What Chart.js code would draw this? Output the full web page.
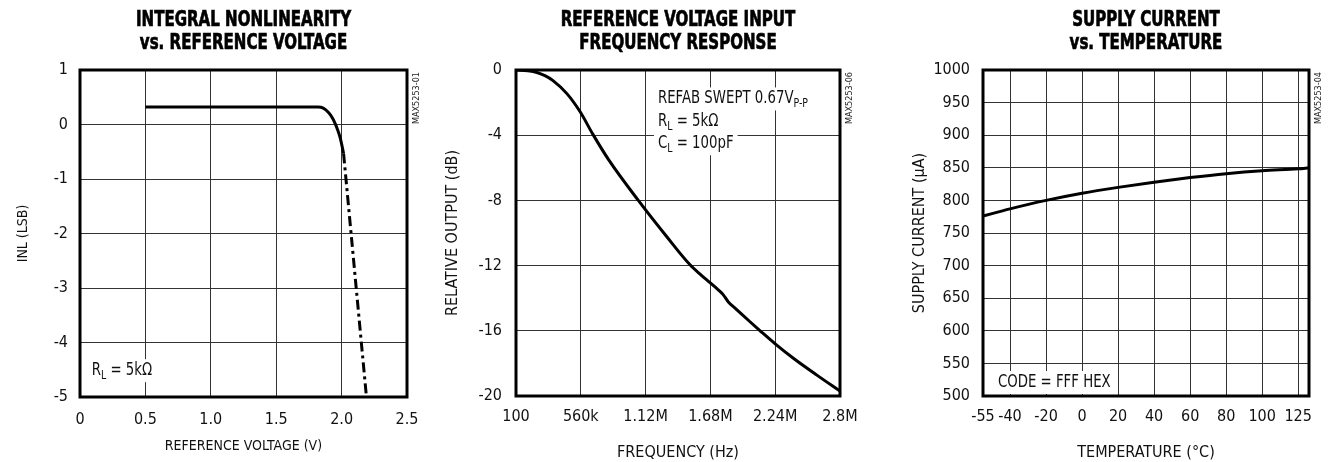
<!DOCTYPE html>
<html>
<head>
<meta charset="utf-8">
<script src="https://cdn.jsdelivr.net/npm/chart.js@4.4.1/dist/chart.umd.min.js"></script>
<style>
  body { margin: 0; background: #fff; }
  .box { position: absolute; top: 0; height: 462px; }
</style>
</head>
<body>
<div class="box" style="left:0;width:440px"><canvas id="inl" width="440" height="462"></canvas></div>
<div class="box" style="left:440px;width:450px"><canvas id="freq" width="450" height="462"></canvas></div>
<div class="box" style="left:890px;width:440px"><canvas id="supply" width="440" height="462"></canvas></div>
<script>
// INL vs reference voltage
const inlVref = [0.5, 1.0, 1.5, 1.82, 1.86, 1.90, 1.93, 1.95, 1.97, 1.99, 2.015];
const inlLsb  = [0.32, 0.32, 0.32, 0.32, 0.30, 0.22, 0.12, 0.02, -0.10, -0.25, -0.53];
const inlFallVref = [2.015, 2.19];
const inlFallLsb  = [-0.53, -5];
const inlXTicks  = [0, 0.5, 1.0, 1.5, 2.0, 2.5];
const inlXLabels = ["0", "0.5", "1.0", "1.5", "2.0", "2.5"];
const inlYTicks  = [-5, -4, -3, -2, -1, 0, 1];

// reference input frequency response
const frqHz = [100, 100000, 180000, 250000, 320000, 440000, 553000, 665000, 800000,
  1057000, 1300000, 1504000, 1600000, 1677000, 1750000, 1790000, 1835000, 1900000,
  2020000, 2110000, 2240000, 2400000, 2600000, 2800000];
const frqDb = [0, -0.05, -0.15, -0.35, -0.65, -1.45, -2.55, -3.95, -5.5,
  -8.0, -10.2, -11.95, -12.58, -13.05, -13.5, -13.78, -14.23, -14.65,
  -15.43, -16.0, -16.8, -17.7, -18.72, -19.7];
const frqXTicks  = [100, 560000, 1120000, 1680000, 2240000, 2800000];
const frqXLabels = ["100", "560k", "1.12M", "1.68M", "2.24M", "2.8M"];
const frqYTicks  = [-20, -16, -12, -8, -4, 0];

// supply current vs temperature (last grid line is labelled 125)
const supTemp = [-55, -40, -20, 0, 20, 40, 60, 80, 100, 120, 126];
const supUa   = [776, 787, 800, 811, 820, 828, 835, 841, 845.5, 848.5, 850];
const supXTicks  = [-55, -40, -20, 0, 20, 40, 60, 80, 100, 120];
const supXLabels = ["-55", "-40", "-20", "0", "20", "40", "60", "80", "100", "125"];
const supYTicks  = [500, 550, 600, 650, 700, 750, 800, 850, 900, 950, 1000];

const FONT = '"Liberation Sans Narrow", "DejaVu Sans Condensed", "Liberation Sans", sans-serif';
Chart.defaults.font.family = FONT;
Chart.defaults.color = "#111";

function zip(xs, ys) {
  return xs.map((x, i) => ({ x: x, y: ys[i] }));
}

// heading, frame, side code and notes (narrow type drawn squeezed)
const extras = {
  id: "extras",
  beforeDatasetsDraw(chart, args, opts) {
    const ctx = chart.ctx;
    const a = chart.chartArea;
    const xs = chart.scales.x, ys = chart.scales.y;
    const sq = 0.87;
    ctx.save();
    (opts.notes || []).forEach(n => {
      let x = xs.getPixelForValue(n.x);
      const y = ys.getPixelForValue(n.y);
      let w = 0;
      n.parts.forEach(p => {
        ctx.font = (p[1] ? "12px " : "17px ") + FONT;
        w += ctx.measureText(p[0]).width * sq;
      });
      ctx.fillStyle = "#fff";
      ctx.fillRect(x - 4, y - 16, w + 8, 23);
      ctx.fillStyle = "#111";
      ctx.textBaseline = "alphabetic";
      ctx.textAlign = "left";
      n.parts.forEach(p => {
        ctx.font = (p[1] ? "12px " : "17px ") + FONT;
        ctx.save();
        ctx.translate(x, y + (p[1] ? 4 : 0));
        ctx.scale(sq, 1);
        ctx.fillText(p[0], 0, 0);
        ctx.restore();
        x += ctx.measureText(p[0]).width * sq;
      });
    });
    ctx.strokeStyle = "#000";
    ctx.lineWidth = 3;
    ctx.strokeRect(a.left, a.top, a.right - a.left, a.bottom - a.top);

    // heading
    ctx.fillStyle = "#000";
    ctx.font = "bold 22px " + FONT;
    ctx.textAlign = "center";
    ctx.textBaseline = "middle";
    ctx.lineWidth = 0.7;
    opts.heading.forEach((t, i) => {
      ctx.save();
      ctx.translate((a.left + a.right) / 2, 20 + i * 23);
      ctx.scale(0.76, 1);
      ctx.fillText(t, 0, 0);
      ctx.strokeText(t, 0, 0);
      ctx.restore();
    });

    ctx.translate(a.right + 10, a.top + 28);
    ctx.rotate(-Math.PI / 2);
    ctx.font = "9px " + FONT;
    ctx.fillStyle = "#222";
    ctx.fillText(opts.code, 0, 0);
    ctx.restore();
  }
};

function makeChart(id, cfg) {
  const ctx = document.getElementById(id).getContext("2d");
  return new Chart(ctx, {
    type: "line",
    data: { datasets: cfg.datasets },
    options: {
      responsive: false,
      animation: false,
      layout: { padding: { top: 70, left: 0, bottom: 0, right: cfg.right } },
      elements: { point: { radius: 0 } },
      plugins: {
        legend: { display: false },
        tooltip: { enabled: false },
        extras: { heading: cfg.title, code: cfg.code, notes: cfg.notes }
      },
      scales: {
        x: {
          type: "linear",
          min: cfg.xMin, max: cfg.xMax,
          afterBuildTicks: s => { s.ticks = cfg.xTicks.map(v => ({ value: v })); },
          afterFit: s => { s.height = cfg.xHeight; },
          ticks: {
            autoSkip: false, maxRotation: 0, padding: cfg.xTickPad,
            font: { size: 16 },
            callback: (v, i) => cfg.xLabels[i]
          },
          grid: { color: "#333", lineWidth: 1, drawTicks: false },
          border: { display: false },
          title: {
            display: true, text: cfg.xTitle,
            font: { size: cfg.titleSize }, padding: { top: 0, bottom: cfg.xTitlePad }
          }
        },
        y: {
          type: "linear",
          min: cfg.yMin, max: cfg.yMax,
          afterBuildTicks: s => { s.ticks = cfg.yTicks.map(v => ({ value: v })); },
          afterFit: s => { s.width = cfg.yWidth; },
          ticks: {
            autoSkip: false, padding: cfg.yTickPad,
            font: { size: 16 },
            callback: v => String(v)
          },
          grid: { color: "#333", lineWidth: 1, drawTicks: false },
          border: { display: false },
          title: {
            display: true, text: cfg.yTitle,
            font: { size: cfg.titleSize }, padding: { top: cfg.yTitlePad, bottom: 0 }
          }
        }
      }
    },
    plugins: [extras]
  });
}

makeChart("inl", {
  title: ["INTEGRAL NONLINEARITY", "vs. REFERENCE VOLTAGE"],
  code: "MAX5253-01",
  right: 33, titleSize: 14,
  xMin: 0, xMax: 2.5, xTicks: inlXTicks, xLabels: inlXLabels, xHeight: 65, xTickPad: 13,
  xTitle: "REFERENCE VOLTAGE (V)", xTitlePad: 7,
  yMin: -5, yMax: 1, yTicks: inlYTicks, yWidth: 80, yTickPad: 12,
  yTitle: "INL (LSB)", yTitlePad: 15,
  notes: [{ x: 0.09, y: -4.6, parts: [["R", 0], ["L", 1], [" = 5kΩ", 0]] }],
  datasets: [
    { data: zip(inlVref, inlLsb), borderColor: "#000", borderWidth: 3, cubicInterpolationMode: "monotone" },
    { data: zip(inlFallVref, inlFallLsb), borderColor: "#000", borderWidth: 3, borderDash: [10, 4, 3, 4] }
  ]
});

makeChart("freq", {
  title: ["REFERENCE VOLTAGE INPUT", "FREQUENCY RESPONSE"],
  code: "MAX5253-06",
  right: 50, titleSize: 16,
  xMin: 100, xMax: 2800000, xTicks: frqXTicks, xLabels: frqXLabels, xHeight: 66, xTickPad: 11,
  xTitle: "FREQUENCY (Hz)", xTitlePad: 0,
  yMin: -20, yMax: 0, yTicks: frqYTicks, yWidth: 76, yTickPad: 14,
  yTitle: "RELATIVE OUTPUT (dB)", yTitlePad: 3,
  notes: [
    { x: 1227000, y: -2.05, parts: [["REFAB SWEPT 0.67V", 0], ["P-P", 1]] },
    { x: 1227000, y: -3.45, parts: [["R", 0], ["L", 1], [" = 5kΩ", 0]] },
    { x: 1227000, y: -4.8, parts: [["C", 0], ["L", 1], [" = 100pF", 0]] }
  ],
  datasets: [
    { data: zip(frqHz, frqDb), borderColor: "#000", borderWidth: 3, cubicInterpolationMode: "monotone" }
  ]
});

makeChart("supply", {
  title: ["SUPPLY CURRENT", "vs. TEMPERATURE"],
  code: "MAX5253-04",
  right: 21, titleSize: 16,
  xMin: -55, xMax: 126, xTicks: supXTicks, xLabels: supXLabels, xHeight: 66, xTickPad: 11,
  xTitle: "TEMPERATURE (°C)", xTitlePad: 0,
  yMin: 500, yMax: 1000, yTicks: supYTicks, yWidth: 93, yTickPad: 13,
  yTitle: "SUPPLY CURRENT (µA)", yTitlePad: 20,
  notes: [{ x: -46.7, y: 513.8, parts: [["CODE = FFF HEX", 0]] }],
  datasets: [
    { data: zip(supTemp, supUa), borderColor: "#000", borderWidth: 3, cubicInterpolationMode: "monotone" }
  ]
});
</script>
</body>
</html>
